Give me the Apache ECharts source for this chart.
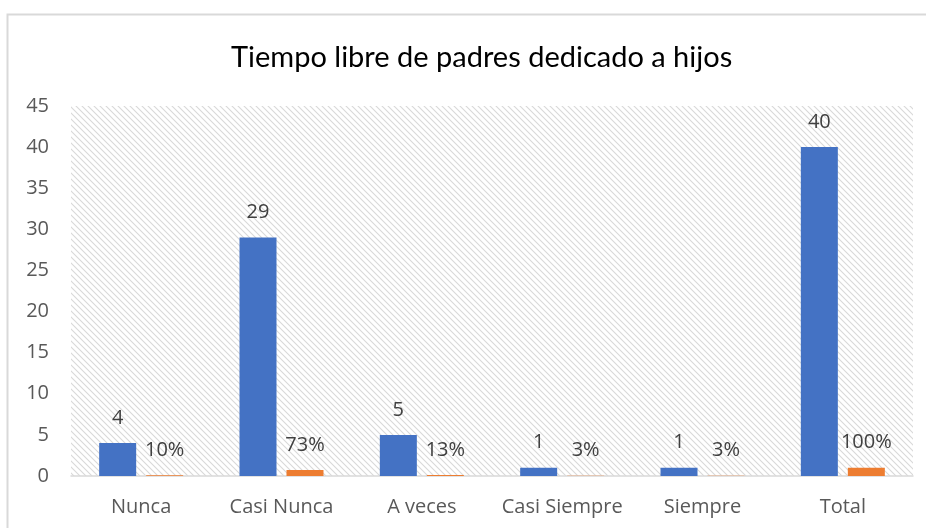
<!DOCTYPE html>
<html>
<head>
	<meta charset="utf-8">
	<title>Tiempo libre de padres dedicado a hijos</title>
	<script src="https://cdn.jsdelivr.net/npm/echarts@6/dist/echarts.min.js"></script>
	<style>
		html, body { margin: 0; padding: 0; background: #ffffff; }
		#chart { width: 926px; height: 528px; }
	</style>
</head>
<body>
	<div id="chart"></div>
<script>
	// datos
	var categorias = ['Nunca', 'Casi Nunca', 'A veces', 'Casi Siempre', 'Siempre', 'Total'];
	var frecuencia = [4, 29, 5, 1, 1, 40];
	var porcentaje = [0.10, 0.73, 0.13, 0.03, 0.03, 1.00];
	var yTicks = [0, 5, 10, 15, 20, 25, 30, 35, 40, 45];

	// trama diagonal del area de trazado
	function hatch() {
		var c = document.createElement('canvas');
		c.width = 6;
		c.height = 6;
		var ctx = c.getContext('2d');
		ctx.fillStyle = '#ffffff';
		ctx.fillRect(0, 0, 6, 6);
		ctx.strokeStyle = '#d9d9d9';
		ctx.lineWidth = 1.1;
		ctx.beginPath();
		ctx.moveTo(-1, -1); ctx.lineTo(7, 7);
		ctx.moveTo(-7, -1); ctx.lineTo(1, 7);
		ctx.moveTo(5, -1); ctx.lineTo(13, 7);
		ctx.stroke();
		return c;
	}

	var labelFont = '"Open Sans", "Noto Sans", sans-serif';

	var option = {
		backgroundColor: '#ffffff',
		animation: false,
		title: {
			text: 'Tiempo libre de padres dedicado a hijos',
			left: 226,
			top: 38,
			textStyle: {
				fontFamily: 'Lato, "Noto Sans", sans-serif',
				fontWeight: 'normal',
				fontSize: 29,
				color: '#000000'
			}
		},
		graphic: [{
			type: 'rect',
			shape: { x: 7.5, y: 14.5, width: 940, height: 540 },
			style: { fill: 'none', stroke: '#d9d9d9', lineWidth: 2 },
			silent: true
		}],
		grid: {
			left: 71,
			right: 13,
			top: 106,
			bottom: 52,
			show: true,
			borderWidth: 0,
			backgroundColor: { image: hatch(), repeat: 'repeat' }
		},
		xAxis: {
			type: 'category',
			data: categorias,
			axisTick: { show: false },
			axisLine: { lineStyle: { color: '#d9d9d9', width: 1.5 } },
			axisLabel: {
				interval: 0,
				margin: 21,
				fontFamily: labelFont,
				fontSize: 20,
				color: '#595959'
			}
		},
		yAxis: {
			type: 'value',
			min: yTicks[0],
			max: yTicks[yTicks.length - 1],
			interval: 5,
			splitLine: { show: false },
			axisLine: { show: false },
			axisTick: { show: false },
			axisLabel: {
				margin: 22,
				fontFamily: labelFont,
				fontSize: 20,
				color: '#595959'
			}
		},
		series: [{
			name: 'Frecuencia',
			type: 'bar',
			data: frecuencia,
			barWidth: 37,
			barGap: '27%',
			itemStyle: { color: '#4472c4' },
			label: {
				show: true,
				position: 'top',
				distance: 15,
				fontFamily: labelFont,
				fontSize: 20,
				color: '#404040'
			}
		}, {
			name: 'Porcentaje',
			type: 'bar',
			data: porcentaje,
			barWidth: 37,
			itemStyle: { color: '#ed7d31' },
			label: {
				show: true,
				position: 'top',
				distance: 15,
				fontFamily: labelFont,
				fontSize: 20,
				color: '#404040',
				formatter: function (p) {
					return Math.round(p.value * 100) + '%';
				}
			}
		}]
	};

	var chart = echarts.init(document.getElementById('chart'));
	chart.setOption(option);
</script>
</body>
</html>
